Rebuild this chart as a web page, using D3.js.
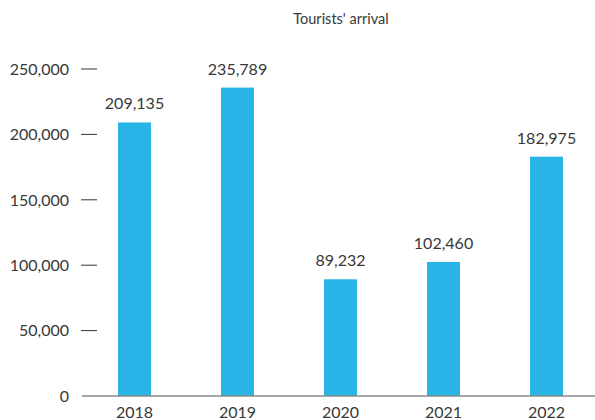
<!DOCTYPE html>
<html>
<head>
<meta charset="utf-8">
<script src="https://cdn.jsdelivr.net/npm/d3@7"></script>
<style>
    body { margin: 0; background: #fff; }
    svg { display: block; font-family: Lato, "Open Sans", sans-serif; }
    .tick-label { font-size: 16px; fill: #383838; }
    .value-label { font-size: 16px; fill: #383838; }
    .title { font-size: 14.5px; fill: #383838; }
</style>
</head>
<body>
<div id="chart"></div>
<script>
const years = ["2018", "2019", "2020", "2021", "2022"];
const arrivals = [209135, 235789, 89232, 102460, 182975];
const yTicks = [0, 50000, 100000, 150000, 200000, 250000];

function drawChart() {
    d3.select("#chart").html("");

    const width = 595, height = 420;

    const svg = d3.select("#chart")
        .append("svg")
        .attr("width", width)
        .attr("height", height);

    // Scales
    const xScale = d3.scaleBand()
        .domain(years)
        .range([83, 598])
        .paddingInner(0.68)
        .paddingOuter(0.34);

    const yScale = d3.scaleLinear()
        .domain([0, 250000])
        .range([396, 69]);

    const fmt = d3.format(",");

    // Title
    svg.append("text")
        .attr("class", "title")
        .attr("x", 341)
        .attr("y", 24)
        .attr("text-anchor", "middle")
        .text("Tourists' arrival");

    // Y ticks (short dashes instead of a full axis line)
    const ticks = svg.selectAll(".ytick")
        .data(yTicks)
        .enter()
        .append("g")
        .attr("class", "ytick")
        .attr("transform", d => `translate(0,${yScale(d)})`);

    ticks.filter(d => d > 0)
        .append("line")
        .attr("x1", 81)
        .attr("x2", 97)
        .attr("stroke", "#333")
        .attr("stroke-width", 1);

    ticks.append("text")
        .attr("class", "tick-label")
        .attr("x", 69)
        .attr("dy", "0.36em")
        .attr("text-anchor", "end")
        .text(d => fmt(d));

    // Bars
    svg.selectAll(".bar")
        .data(arrivals)
        .enter()
        .append("rect")
        .attr("class", "bar")
        .attr("x", (d, i) => xScale(years[i]))
        .attr("y", d => yScale(d))
        .attr("width", xScale.bandwidth())
        .attr("height", d => yScale(0) - yScale(d))
        .attr("fill", "#29B4E8");

    // Baseline
    svg.append("line")
        .attr("x1", 82)
        .attr("x2", width)
        .attr("y1", yScale(0))
        .attr("y2", yScale(0))
        .attr("stroke", "#888")
        .attr("stroke-width", 1.5);

    // Value labels
    svg.selectAll(".value-label")
        .data(arrivals)
        .enter()
        .append("text")
        .attr("class", "value-label")
        .attr("x", (d, i) => xScale(years[i]) + xScale.bandwidth() / 2)
        .attr("y", d => yScale(d) - 13)
        .attr("text-anchor", "middle")
        .text(d => fmt(d));

    // Year labels
    svg.selectAll(".year-label")
        .data(years)
        .enter()
        .append("text")
        .attr("class", "tick-label")
        .attr("x", d => xScale(d) + xScale.bandwidth() / 2)
        .attr("y", 418)
        .attr("text-anchor", "middle")
        .text(d => d);
}

drawChart();
</script>
</body>
</html>
